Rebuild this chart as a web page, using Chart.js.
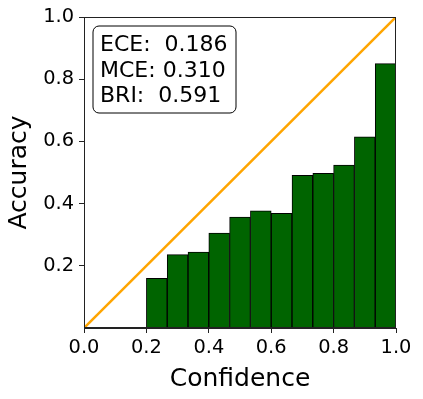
<!DOCTYPE html>
<html>
<head>
<meta charset="utf-8">
<script src="https://cdn.jsdelivr.net/npm/chart.js@4"></script>
<style>
  body { margin: 0; background: #fff; }
  #wrap { width: 423px; height: 399px; }
</style>
</head>
<body>
<div id="wrap"><canvas id="grafico" width="423" height="399"></canvas></div>
<script>
// centros dos bins (confiança) e acurácia de cada bin
const binCentros = [0.2333, 0.3, 0.3667, 0.4333, 0.5, 0.5667, 0.6333, 0.7, 0.7667, 0.8333, 0.9, 0.9667];
const acuracia = [0.160, 0.236, 0.244, 0.305, 0.357, 0.377, 0.369, 0.491, 0.497, 0.524, 0.615, 0.850];
const diagonalX = [0, 1];
const diagonalY = [0, 1];
const metricas = ['ECE:  0.186', 'MCE: 0.310', 'BRI:  0.591'];

const fonte = 'DejaVu Sans';

// moldura do gráfico + caixa com as métricas
const caixaMetricas = {
  id: 'caixaMetricas',
  afterDraw(chart) {
    const ctx = chart.ctx;
    const a = chart.chartArea;
    ctx.save();
    ctx.strokeStyle = '#222';
    ctx.lineWidth = 1;
    ctx.strokeRect(a.left + 0.5, a.top + 0.5, a.right - a.left - 1, a.bottom - a.top - 1);

    const x = a.left + 9, y = a.top + 9, w = 143, h = 87, r = 6;
    ctx.beginPath();
    ctx.roundRect(x, y, w, h, r);
    ctx.fillStyle = 'rgba(255,255,255,0.8)';
    ctx.fill();
    ctx.strokeStyle = '#000';
    ctx.stroke();

    ctx.fillStyle = '#000';
    ctx.font = '22px "' + fonte + '"';
    ctx.textBaseline = 'alphabetic';
    metricas.forEach((t, i) => {
      ctx.fillText(t, x + 7, y + 25 + i * 25.5);
    });
    ctx.restore();
  }
};

new Chart(document.getElementById('grafico'), {
  data: {
    datasets: [
      {
        type: 'line',
        data: diagonalX.map((v, i) => ({ x: v, y: diagonalY[i] })),
        borderColor: '#FFA500',
        borderWidth: 2.5,
        pointRadius: 0,
        order: 0
      },
      {
        type: 'bar',
        data: binCentros.map((v, i) => ({ x: v, y: acuracia[i] })),
        backgroundColor: '#006400',
        borderColor: '#000',
        borderWidth: 1,
        barPercentage: 1,
        categoryPercentage: 1,
        order: 1
      }
    ]
  },
  options: {
    responsive: false,
    animation: false,
    layout: { padding: { top: 17, right: 27, left: 0, bottom: 0 } },
    plugins: {
      legend: { display: false },
      tooltip: { enabled: false }
    },
    scales: {
      x: {
        type: 'linear',
        min: 0,
        max: 1,
        offset: false,
        grid: { offset: false, drawOnChartArea: false, tickLength: 5, tickColor: '#222' },
        border: { color: '#222' },
        ticks: {
          stepSize: 0.2,
          color: '#000',
          padding: 3,
          font: { family: fonte, size: 19.4 },
          callback: v => v.toFixed(1)
        },
        title: {
          display: true,
          text: 'Confidence',
          color: '#000',
          padding: { top: 0, bottom: 5 },
          font: { family: fonte, size: 25 }
        },
        afterFit: s => { s.height = 71; }
      },
      y: {
        min: 0,
        max: 1,
        grid: {
          drawOnChartArea: false,
          tickLength: 5,
          tickColor: c => c.tick && c.tick.value === 0 ? 'rgba(0,0,0,0)' : '#222'
        },
        border: { color: '#222' },
        ticks: {
          stepSize: 0.2,
          color: '#000',
          padding: 5,
          font: { family: fonte, size: 19.4 },
          callback: v => v === 0 ? '' : v.toFixed(1)
        },
        title: {
          display: true,
          text: 'Accuracy',
          color: '#000',
          padding: { bottom: 4 },
          font: { family: fonte, size: 25 }
        },
        afterFit: s => { s.width = 84; }
      }
    }
  },
  plugins: [caixaMetricas]
});
</script>
</body>
</html>
